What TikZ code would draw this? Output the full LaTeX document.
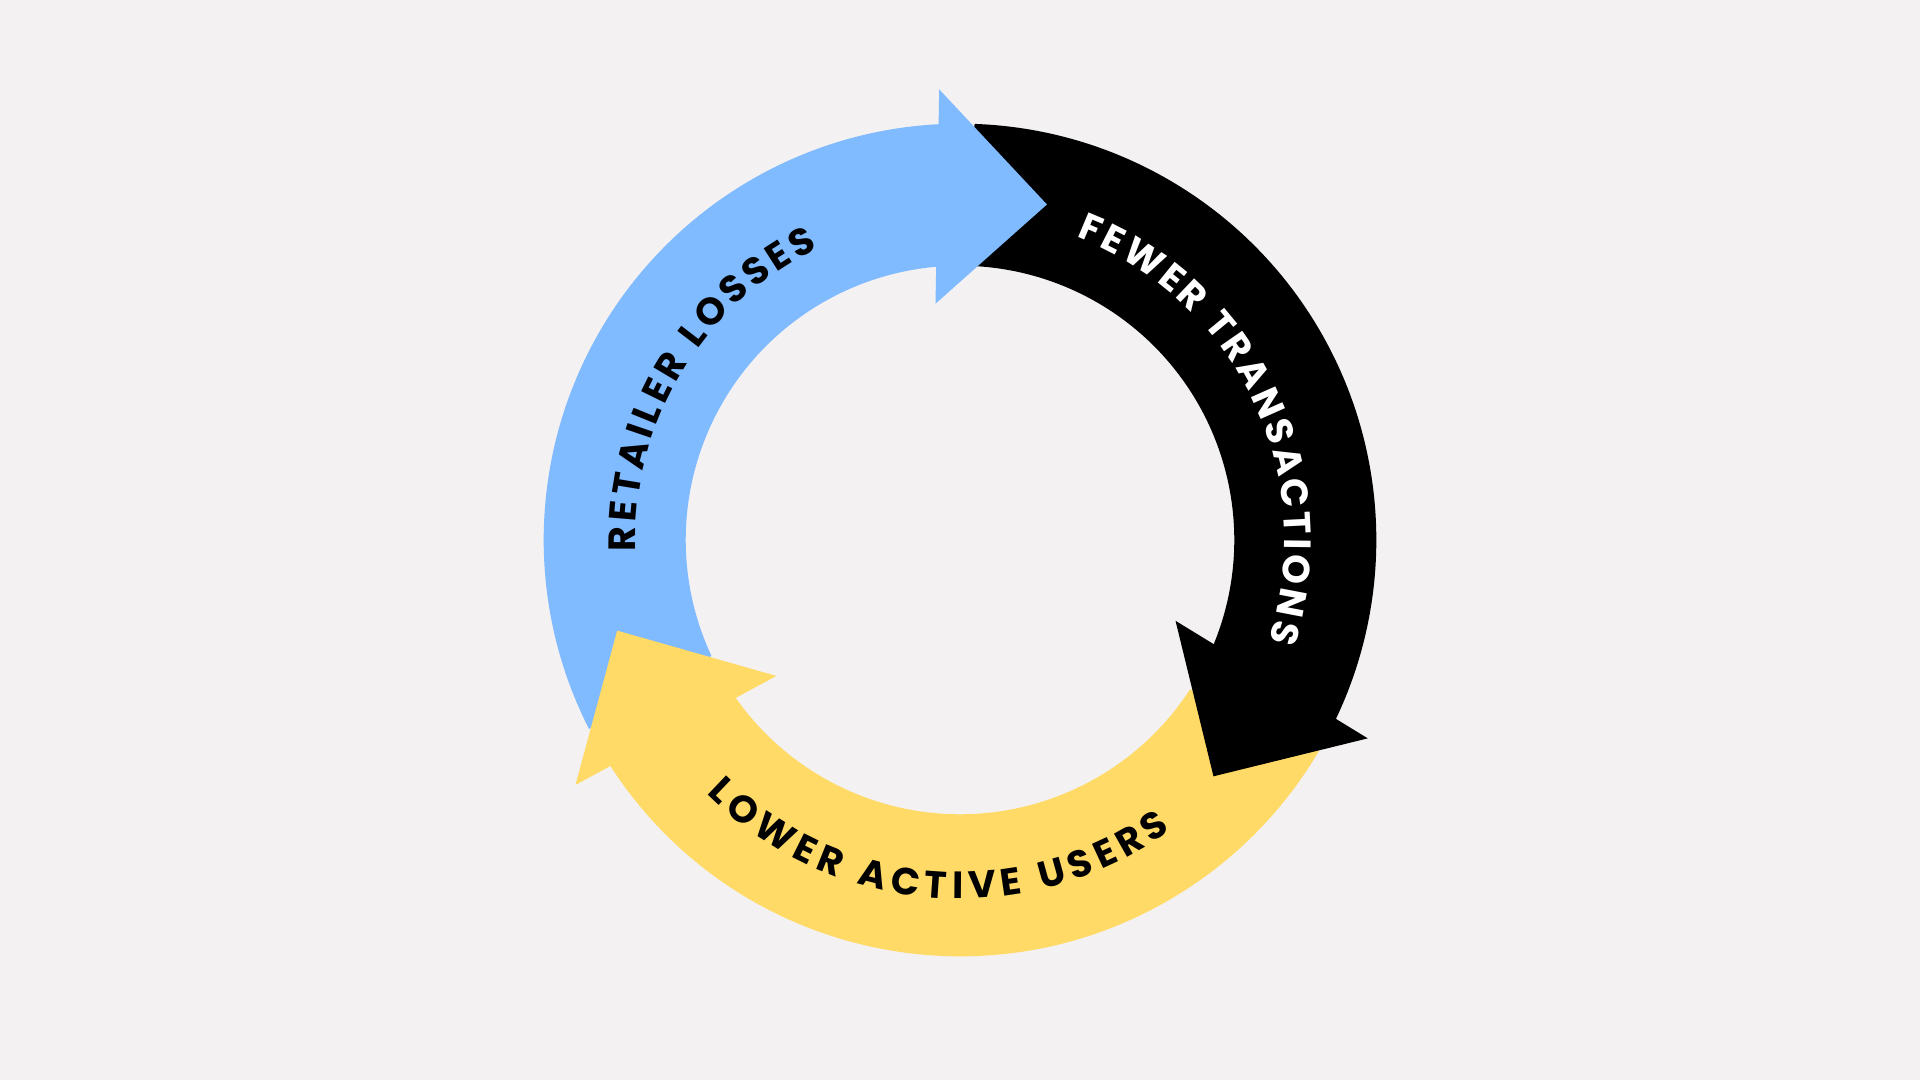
\documentclass[tikz,border=0pt]{standalone}
\usepackage{fontspec}
\newfontfamily\pop{Poppins}[UprightFont=* Bold]
\usetikzlibrary{decorations.text}
\definecolor{bg}{HTML}{F3F1F2}
\definecolor{cblue}{HTML}{80BAFF}
\definecolor{cyel}{HTML}{FFDA66}
\tikzset{lbl/.style={decorate,decoration={text along path,text align={fit to path},text={#1}}}}
\begin{document}
\begin{tikzpicture}[x=1pt,y=1pt]
\fill[bg] (0,0) rectangle (1568,882);
\useasboundingbox (0,0) rectangle (1568,882);
\begin{scope}[shift={(784,441)}]
% bodies
\fill[cblue] (92:340) arc[start angle=92,end angle=207,radius=340] -- (205:224) arc[start angle=205,end angle=92,radius=224] -- cycle;
\fill[black] (88:340) arc[start angle=88,end angle=-27,radius=340] -- (-23:224) arc[start angle=-23,end angle=88,radius=224] -- cycle;
\fill[cyel] (212.8:340) arc[start angle=212.8,end angle=330,radius=340] -- (327:224) arc[start angle=327,end angle=215,radius=224] -- cycle;
\end{scope}
% heads
\fill[cblue] (767,809) -- (855,715) -- (764,634) -- cycle;
\fill[black] (960,375) -- (1117,279) -- (991,248) -- cycle;
\fill[cyel] (634,330) -- (504,367) -- (470,241) -- cycle;
% labels
\begin{scope}[shift={(784,441)}]
\path[lbl={|\pop\fontsize{31}{31}\selectfont|RETAILER LOSSES}] (182:265) arc[start angle=182,end angle=116,radius=265];
\path[lbl={|\pop\fontsize{31}{31}\selectfont\color{white}|FEWER TRANSACTIONS}] (69:265) arc[start angle=69,end angle=-18,radius=265];
\path[lbl={|\pop\fontsize{31}{31}\selectfont|LOWER ACTIVE USERS}] (225:293) arc[start angle=225,end angle=306,radius=293];
\end{scope}
\end{tikzpicture}
\end{document}
